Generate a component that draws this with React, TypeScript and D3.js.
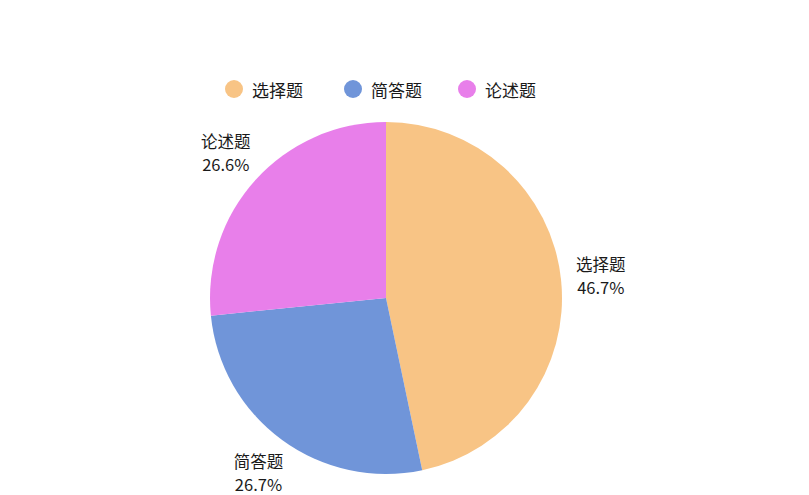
import { useEffect, useRef } from 'react';
import * as d3 from 'd3';

const categories = ['选择题', '简答题', '论述题'];
const values = [46.7, 26.7, 26.6];
const colors = ['#f8c485', '#7095d9', '#e87fea'];

const W = 809;
const H = 495;

export default function App() {
  const svgRef = useRef<SVGSVGElement>(null);

  useEffect(() => {
    if (!svgRef.current) return;
    const svg = d3.select(svgRef.current);
    svg.selectAll('*').remove();

    const font = '"Noto Sans CJK SC", "Noto Sans", sans-serif';
    const cx = 386;
    const cy = 298;
    const radius = 176;

    svg.append('rect').attr('width', W).attr('height', H).attr('fill', '#ffffff');

    const pie = d3.pie<number>().sort(null).value(d => d);
    const arcs = pie(values);
    const arc = d3.arc<d3.PieArcDatum<number>>().innerRadius(0).outerRadius(radius);

    const g = svg.append('g').attr('transform', `translate(${cx},${cy})`);

    g.selectAll('path.slice')
      .data(arcs)
      .join('path')
      .attr('class', 'slice')
      .attr('d', arc)
      .attr('fill', (_, i) => colors[i]);

    // outside labels
    const blockW = 52;
    const blockH = 53;
    arcs.forEach((a, i) => {
      const mid = (a.startAngle + a.endAngle) / 2;
      const s = Math.sin(mid);
      const c = Math.cos(mid);
      const ax = s * (radius + 14);
      const ay = -c * (radius + 14);
      const bx = ax + s * blockW / 2;
      const by = ay - c * blockH / 2;
      const t = g.append('text')
        .attr('text-anchor', 'middle')
        .attr('font-family', font)
        .attr('font-size', 16.5)
        .attr('fill', '#1a1a1a');
      t.append('tspan').attr('x', bx).attr('y', by - 5).text(categories[i]);
      t.append('tspan').attr('x', bx).attr('y', by + 18).text(`${values[i]}%`);
    });

    // legend
    const legendX = [234, 353, 467];
    const legend = svg.append('g');
    categories.forEach((cat, i) => {
      legend.append('circle')
        .attr('cx', legendX[i])
        .attr('cy', 89)
        .attr('r', 9)
        .attr('fill', colors[i]);
      legend.append('text')
        .attr('x', legendX[i] + 18)
        .attr('y', 89)
        .attr('dominant-baseline', 'central')
        .attr('font-family', font)
        .attr('font-size', 17)
        .attr('fill', '#1a1a1a')
        .text(cat);
    });
  }, []);

  return (
    <svg
      ref={svgRef}
      width={W}
      height={H}
      style={{ position: 'absolute', left: 0, top: 0 }}
    />
  );
}
